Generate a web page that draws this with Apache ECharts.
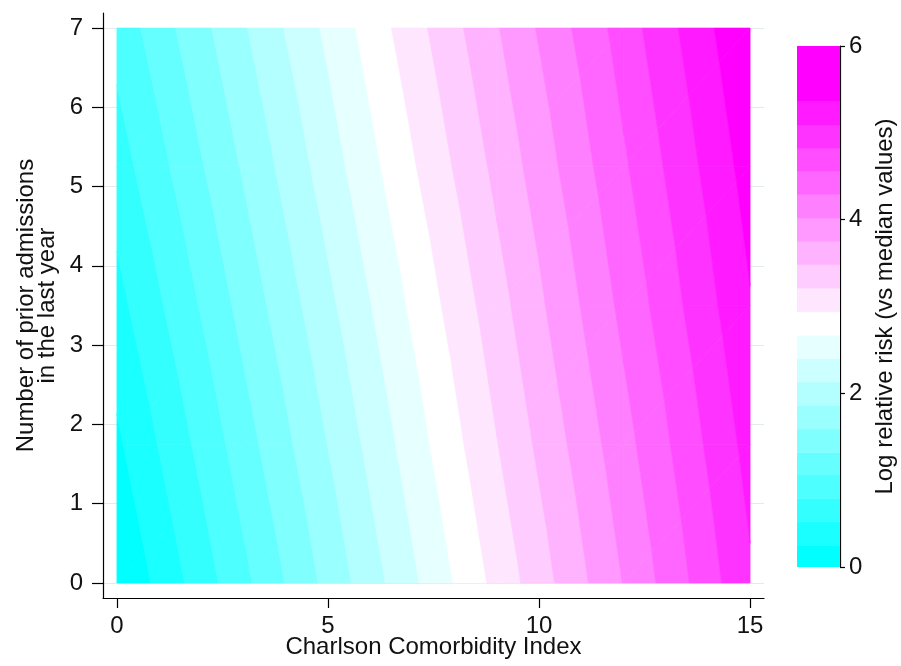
<!DOCTYPE html>
<html><head><meta charset="utf-8">
<script src="https://cdn.jsdelivr.net/npm/echarts@6/dist/echarts.min.js"></script>
<style>html,body{margin:0;padding:0;background:#fff}#c{width:901px;height:666px}</style>
</head><body><div id="c"></div>
<script>
// Grid nodes: x = Charlson Comorbidity Index, y = prior admissions
const xGrid = [0, 3, 6, 9, 12, 15];
const yGrid = [0, 1.75, 3.5, 5.25, 7];
// Log relative risk at each node (one row per y)
const zAtY0    = [-0.02, 0.99, 2.01, 3.02, 4.03, 5.05];
const zAtY1_75 = [0.20, 1.20, 2.20, 3.20, 4.19, 5.19];
const zAtY3_5  = [0.43, 1.41, 2.39, 3.37, 4.36, 5.34];
const zAtY5_25 = [0.66, 1.62, 2.59, 3.55, 4.52, 5.48];
const zAtY7    = [0.88, 1.83, 2.78, 3.73, 4.68, 5.63];
const zRows = [zAtY0, zAtY1_75, zAtY3_5, zAtY5_25, zAtY7];
// Contour cut levels (21 bands)
const levels = [-0.02, 0.25, 0.52, 0.79, 1.06, 1.32, 1.59, 1.86, 2.13, 2.40, 2.67,
                2.94, 3.21, 3.48, 3.75, 4.02, 4.29, 4.56, 4.82, 5.09, 5.36, 5.63];
const bandColors = ['#00ffff','#1affff','#33ffff','#4dffff','#66ffff','#80ffff','#99ffff',
  '#b3ffff','#ccffff','#e6ffff','#ffffff','#ffe6ff','#ffccff','#ffb3ff','#ff99ff',
  '#ff80ff','#ff66ff','#ff4dff','#ff33ff','#ff1aff','#ff00ff'];
const xTicks = [0, 5, 10, 15];
const yTicks = [0, 1, 2, 3, 4, 5, 6, 7];
const legendTicks = [0, 2, 4, 6];

const FONT = "'Liberation Sans', Arial, sans-serif";
const FS = 24;
const TXT = '#111';

function clipZ(poly, t, keepAbove) {
  const out = [];
  for (let n = 0; n < poly.length; n++) {
    const a = poly[n], b = poly[(n + 1) % poly.length];
    const ina = keepAbove ? a[2] >= t : a[2] <= t;
    const inb = keepAbove ? b[2] >= t : b[2] <= t;
    if (ina) out.push(a);
    if (ina !== inb) {
      const f = (t - a[2]) / (b[2] - a[2]);
      out.push([a[0] + f * (b[0] - a[0]), a[1] + f * (b[1] - a[1]), t]);
    }
  }
  return out;
}

const cellData = [];
for (let j = 0; j < yGrid.length - 1; j++)
  for (let i = 0; i < xGrid.length - 1; i++)
    cellData.push([xGrid[i], yGrid[j], i, j]);

function renderCell(params, api) {
  const i = api.value(2), j = api.value(3);
  const P = (ii, jj) => [xGrid[ii], yGrid[jj], zRows[jj][ii]];
  const p00 = P(i, j), p10 = P(i + 1, j), p11 = P(i + 1, j + 1), p01 = P(i, j + 1);
  const tris = [[p00, p10, p11], [p00, p11, p01]];
  const children = [];
  const nb = bandColors.length;
  for (const tri of tris) {
    for (let k = 0; k < nb; k++) {
      let poly = tri;
      if (k > 0) poly = clipZ(poly, levels[k], true);
      if (poly.length >= 3 && k < nb - 1) poly = clipZ(poly, levels[k + 1], false);
      if (poly.length < 3) continue;
      children.push({
        type: 'polygon',
        shape: { points: poly.map(p => api.coord([p[0], p[1]])) },
        style: { fill: bandColors[k], stroke: bandColors[k], lineWidth: 0.7 }
      });
    }
  }
  return { type: 'group', children };
}

const legendData = bandColors.map((c, k) => [0.5, (levels[k] + levels[k + 1]) / 2, k]);
function renderLegend(params, api) {
  const k = api.value(2);
  const lo = Math.max(levels[k], legendTicks[0]);
  const hi = k === bandColors.length - 1 ? legendTicks[legendTicks.length - 1] : levels[k + 1];
  const a = api.coord([0, hi]), b = api.coord([1, lo]);
  return {
    type: 'rect',
    shape: { x: a[0], y: a[1], width: b[0] - a[0], height: b[1] - a[1] },
    style: { fill: bandColors[k], stroke: bandColors[k], lineWidth: 0.5 }
  };
}

const axisLine = { show: true, onZero: false, lineStyle: { color: '#000', width: 1.2 } };
const chart = echarts.init(document.getElementById('c'), null, { renderer: 'canvas' });
chart.setOption({
  backgroundColor: '#fff',
  animation: false,
  grid: [
    { left: 103, right: 137, top: 13, bottom: 68, containLabel: false, outerBoundsMode: 'none' },
    { left: 797, right: 61, top: 46, bottom: 99, containLabel: false, outerBoundsMode: 'none' }
  ],
  xAxis: [
    {
      gridIndex: 0, type: 'value', min: -0.33, max: 15.33,
      axisLine, splitLine: { show: false },
      axisTick: { show: true, length: 10, customValues: xTicks, lineStyle: { color: '#000', width: 1.2 } },
      axisLabel: { customValues: xTicks, margin: 16, fontSize: FS, fontFamily: FONT, color: TXT },
      name: 'Charlson Comorbidity Index', nameLocation: 'middle', nameGap: 37, nameMoveOverlap: false,
      nameTextStyle: { fontSize: FS, fontFamily: FONT, color: TXT }
    },
    { gridIndex: 1, type: 'value', min: 0, max: 1, show: false }
  ],
  yAxis: [
    {
      gridIndex: 0, type: 'value', min: -0.19, max: 7.19,
      axisLine,
      axisTick: { show: true, length: 11, customValues: yTicks, lineStyle: { color: '#000', width: 1.2 } },
      axisLabel: { customValues: yTicks, margin: 20, fontSize: FS, fontFamily: FONT, color: TXT },
      splitLine: { show: true, lineStyle: { color: '#e3eaee', width: 1 } },
      name: 'Number of prior admissions\nin the last year', nameLocation: 'middle', nameGap: 45,
      nameRotate: 90, nameMoveOverlap: false,
      nameTextStyle: { fontSize: FS, fontFamily: FONT, color: TXT, lineHeight: 21, align: 'center' }
    },
    {
      gridIndex: 1, type: 'value', min: 0, max: 6, interval: 2, position: 'right',
      axisLine,
      axisTick: { show: true, length: 5, lineStyle: { color: '#000', width: 1.2 } },
      axisLabel: { margin: 9, fontSize: FS, fontFamily: FONT, color: TXT },
      splitLine: { show: false },
      name: 'Log relative risk (vs median values)', nameLocation: 'middle', nameGap: 33,
      nameRotate: 90, nameMoveOverlap: false,
      nameTextStyle: { fontSize: FS, fontFamily: FONT, color: TXT }
    }
  ],
  series: [
    {
      type: 'custom', xAxisIndex: 0, yAxisIndex: 0, data: cellData,
      encode: { x: 0, y: 1 }, renderItem: renderCell, clip: true, silent: true
    },
    {
      type: 'custom', xAxisIndex: 1, yAxisIndex: 1, data: legendData,
      encode: { x: 0, y: 1 }, renderItem: renderLegend, clip: true, silent: true
    }
  ]
});
</script>
</body></html>
